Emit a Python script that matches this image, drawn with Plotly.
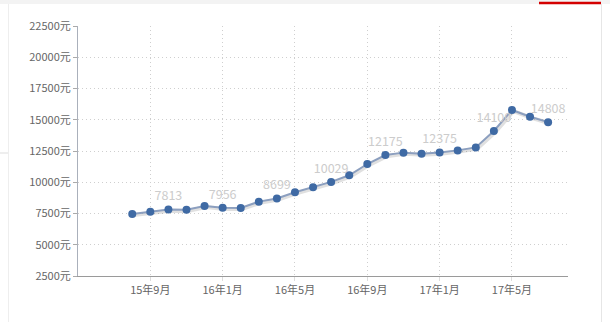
import plotly.graph_objects as go

months = ["15年8月", "15年9月", "15年10月", "15年11月", "15年12月",
          "16年1月", "16年2月", "16年3月", "16年4月", "16年5月", "16年6月", "16年7月",
          "16年8月", "16年9月", "16年10月", "16年11月", "16年12月",
          "17年1月", "17年2月", "17年3月", "17年4月", "17年5月", "17年6月", "17年7月"]
prices = [7460, 7650, 7813, 7800, 8100, 7956, 7950, 8450, 8699, 9200, 9600, 10029,
          10560, 11460, 12175, 12370, 12290, 12375, 12550, 12790, 14100, 15780, 15240, 14808]
label_every = 3
label_start = 2
xtick_labels = ["15年9月", "16年1月", "16年5月", "16年9月", "17年1月", "17年5月"]
ytick_vals = [2500, 5000, 7500, 10000, 12500, 15000, 17500, 20000, 22500]

idx = list(range(len(months)))
texts = [str(v) if (i >= label_start and (i - label_start) % label_every == 0) else "" for i, v in enumerate(prices)]
xtick_idx = [months.index(m) for m in xtick_labels]

font = "Noto Sans CJK SC, Microsoft YaHei, sans-serif"

fig = go.Figure()
# soft shadow under the line
fig.add_trace(go.Scatter(x=[i + 0.08 for i in idx], y=[p - 90 for p in prices], mode="lines",
                         line=dict(color="rgba(0,0,0,0.12)", width=4),
                         hoverinfo="skip", showlegend=False))
fig.add_trace(go.Scatter(x=idx, y=prices, mode="lines+markers+text",
                         line=dict(color="#8c9fbf", width=2),
                         marker=dict(color="#3f6aa4", size=8),
                         text=texts, textposition="top center",
                         textfont=dict(color="#cccccc", size=12.5, family=font),
                         showlegend=False))

grid_dash = "1px,3px"
fig.update_xaxes(range=[-3, 24.1], tickvals=xtick_idx, ticktext=xtick_labels,
                 showgrid=True, gridcolor="#cfcfcf", griddash=grid_dash, gridwidth=1,
                 showline=True, linecolor="#9a9a9a", linewidth=1,
                 ticks="outside", ticklen=4, tickcolor="#dddddd",
                 tickfont=dict(color="#666666", size=11, family=font), zeroline=False)
fig.update_yaxes(range=[2500, 22500], tickvals=ytick_vals,
                 ticktext=[f"{v}元" for v in ytick_vals],
                 showgrid=True, gridcolor="#cfcfcf", griddash=grid_dash, gridwidth=1,
                 showline=True, linecolor="#aab0bb", linewidth=1,
                 ticks="outside", ticklen=4, tickcolor="#aaaaaa",
                 tickfont=dict(color="#666666", size=11, family=font), zeroline=False)

fig.update_layout(width=610, height=322, margin=dict(l=78, r=42, t=26, b=46),
                  paper_bgcolor="white", plot_bgcolor="white",
                  shapes=[
                      dict(type="rect", xref="paper", yref="paper", x0=-78/490, x1=532/490,
                           y0=1 + 22/250, y1=1 + 26/250, fillcolor="#f3f3f3", line=dict(width=0), layer="below"),
                      dict(type="line", xref="paper", yref="paper", x0=(539-78)/490, x1=(601-78)/490,
                           y0=1 + 23/250, y1=1 + 23/250, line=dict(color="#d40000", width=2.5)),
                      dict(type="line", xref="paper", yref="paper", x0=(601.5-78)/490, x1=(601.5-78)/490,
                           y0=1 + 22/250, y1=-46/250, line=dict(color="#e6e6e6", width=1)),
                      dict(type="line", xref="paper", yref="paper", x0=(8.5-78)/490, x1=(8.5-78)/490,
                           y0=1 + 22/250, y1=-46/250, line=dict(color="#eeeeee", width=1)),
                      dict(type="line", xref="paper", yref="paper", x0=-78/490, x1=(8-78)/490,
                           y0=(276-153)/250, y1=(276-153)/250, line=dict(color="#dddddd", width=1)),
                  ])

fig.write_html("out.html")
